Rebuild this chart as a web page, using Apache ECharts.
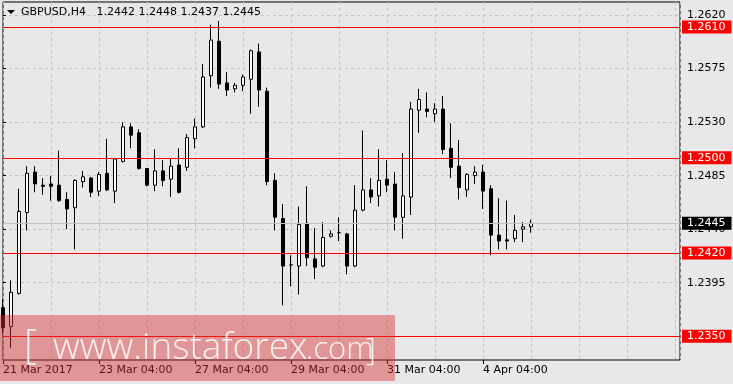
<!DOCTYPE html>
<html><head><meta charset="utf-8">
<script src="https://cdn.jsdelivr.net/npm/echarts@6/dist/echarts.min.js"></script>
<style>html,body{margin:0;padding:0;background:#e8e8e8}#c{width:733px;height:384px}</style>
</head><body><div id="c"></div><script>
const symbolName = 'GBPUSD,H4';
const opens  = [1.2374,1.2358,1.2386,1.2454,1.2488,1.2477,1.2478,1.2477,1.2465,1.2458,1.2480,1.2483,1.2472,1.2487,1.2472,1.2497,1.2526,1.2521,1.2491,1.2477,1.2489,1.2482,1.2494,1.2492,1.2516,1.2526,1.2569,1.2598,1.2563,1.2558,1.2561,1.2566,1.2589,1.2556,1.2481,1.2449,1.2410,1.2409,1.2445,1.2415,1.2409,1.2434,1.2437,1.2436,1.2409,1.2456,1.2473,1.2468,1.2482,1.2478,1.2450,1.2467,1.2540,1.2541,1.2537,1.2541,1.2508,1.2493,1.2473,1.2485,1.2488,1.2474,1.2435,1.2431,1.2432,1.2440,1.2442];
const highs  = [1.2381,1.2397,1.2474,1.2493,1.2493,1.2483,1.2485,1.2506,1.2471,1.2482,1.2489,1.2484,1.2488,1.2516,1.2500,1.2530,1.2529,1.2524,1.2491,1.2507,1.2498,1.2499,1.2508,1.2520,1.2533,1.2579,1.2612,1.2615,1.2572,1.2563,1.2570,1.2591,1.2596,1.2559,1.2487,1.2461,1.2418,1.2459,1.2476,1.2441,1.2446,1.2439,1.2450,1.2437,1.2477,1.2523,1.2483,1.2507,1.2498,1.2488,1.2504,1.2547,1.2558,1.2555,1.2546,1.2552,1.2529,1.2515,1.2487,1.2493,1.2494,1.2477,1.2466,1.2464,1.2452,1.2446,1.2448];
const lows   = [1.2352,1.2340,1.2385,1.2439,1.2471,1.2469,1.2464,1.2463,1.2440,1.2423,1.2475,1.2467,1.2468,1.2472,1.2462,1.2496,1.2508,1.2490,1.2476,1.2472,1.2476,1.2467,1.2470,1.2489,1.2508,1.2525,1.2559,1.2558,1.2552,1.2555,1.2556,1.2537,1.2543,1.2477,1.2439,1.2376,1.2392,1.2385,1.2409,1.2398,1.2408,1.2433,1.2430,1.2402,1.2408,1.2455,1.2462,1.2459,1.2471,1.2439,1.2432,1.2452,1.2521,1.2534,1.2530,1.2503,1.2483,1.2465,1.2467,1.2478,1.2457,1.2418,1.2423,1.2423,1.2429,1.2429,1.2437];
const closes = [1.2357,1.2387,1.2455,1.2487,1.2478,1.2476,1.2476,1.2464,1.2457,1.2481,1.2484,1.2471,1.2486,1.2473,1.2499,1.2526,1.2519,1.2491,1.2477,1.2489,1.2481,1.2493,1.2471,1.2517,1.2526,1.2568,1.2599,1.2562,1.2557,1.2561,1.2568,1.2590,1.2557,1.2480,1.2450,1.2409,1.2410,1.2444,1.2416,1.2408,1.2433,1.2436,1.2437,1.2409,1.2456,1.2473,1.2467,1.2481,1.2477,1.2450,1.2468,1.2541,1.2549,1.2539,1.2541,1.2507,1.2492,1.2475,1.2486,1.2488,1.2472,1.2435,1.2430,1.2430,1.2439,1.2442,1.2445];
const tickPositions = [0,12,24,36,48,60];
const tickLabels = ['21 Mar 2017','23 Mar 04:00','27 Mar 04:00','29 Mar 04:00','31 Mar 04:00','4 Apr 04:00'];
const priceTicks = [1.2350,1.2395,1.2440,1.2485,1.2530,1.2575,1.2620];
const levels = [1.2610,1.2500,1.2420,1.2350];
const lastPrice = 1.2445;

const FONT = '"DejaVu Sans", sans-serif';
const n = opens.length;
const data = opens.map((o,i)=>[i,o,closes[i],lows[i],highs[i]]);
const last = n-1;
const header = symbolName + '   ' + [opens[last],highs[last],lows[last],closes[last]].map(v=>v.toFixed(4)).join(' ');

const chart = echarts.init(document.getElementById('c'), null, {renderer:'canvas'});
const levelLines = levels.map(v=>({
  yAxis: v,
  lineStyle:{color:'#ff0000', width:1, type:'solid'},
  label:{show:true, position:'end', distance:2, formatter: p=>Number(p.value).toFixed(4),
    color:'#ffffff', backgroundColor:'#ff0000', padding:[1,6,0,5], fontSize:11, lineHeight:12, fontFamily:FONT}
}));
levelLines.unshift({
  yAxis: lastPrice,
  lineStyle:{color:'#c0c0c0', width:1, type:'solid'},
  label:{show:true, position:'end', distance:2, formatter: p=>Number(p.value).toFixed(4),
    color:'#ffffff', backgroundColor:'#000000', padding:[1,6,0,5], fontSize:11, lineHeight:12, fontFamily:FONT}
});

const WM = 'rgba(255,255,255,0.85)';
chart.setOption({
  animation:false,
  backgroundColor:'#e8e8e8',
  grid:{left:3, top:2, right:53, bottom:24, show:true, borderColor:'#000', borderWidth:1, backgroundColor:'transparent'},
  xAxis:[{
    type:'value', min:0, max:84.625, interval:6, position:'bottom',
    axisLine:{show:false}, axisTick:{show:false}, axisLabel:{show:false},
    splitLine:{show:true, lineStyle:{color:'#c4c4c4', type:[3,3], width:1}}
  },{
    type:'value', min:0, max:84.625, position:'bottom',
    axisLine:{show:false},
    axisTick:{show:true, customValues:tickPositions, length:4, lineStyle:{color:'#000'}},
    axisLabel:{show:true, customValues:tickPositions, align:'left', margin:5, color:'#000', fontSize:11, fontFamily:FONT,
      formatter:v=>{const k=tickPositions.indexOf(v); return k>=0?tickLabels[k]:'';}},
    splitLine:{show:false}
  }],
  yAxis:{
    type:'value', position:'right', min:1.2330, max:1.2631,
    axisLine:{show:false},
    axisTick:{show:true, customValues:priceTicks, length:3, lineStyle:{color:'#000'}},
    axisLabel:{show:true, customValues:priceTicks, margin:7, color:'#000', fontSize:11, fontFamily:FONT, formatter:v=>v.toFixed(4)},
    splitLine:{show:true, lineStyle:{color:'#c4c4c4', type:[3,3], width:1}}
  },
  series:[{
    type:'candlestick', xAxisIndex:0, yAxisIndex:0,
    encode:{x:0, y:[1,2,3,4]},
    data:data, barWidth:4,
    itemStyle:{color:'#ffffff', color0:'#000000', borderColor:'#000000', borderColor0:'#000000', borderColorDoji:'#000000', borderWidth:1},
    markLine:{symbol:'none', silent:true, animation:false, precision:4, data:levelLines}
  }],
  graphic:[
    {type:'polygon', shape:{points:[[7,10],[15,10],[11,14]]}, style:{fill:'#000'}, z:50},
    {type:'text', x:21, y:12, style:{text:header, font:'11px '+FONT, fill:'#000', verticalAlign:'middle'}, z:50},
    {type:'rect', shape:{x:0, y:315, width:395, height:66}, style:{fill:'rgba(214,46,46,0.44)'}, z:100},
    {type:'text', x:24, y:347, style:{text:'[', font:'300 40px "Open Sans", sans-serif', fill:WM, verticalAlign:'middle'}, z:101},
    {type:'text', x:53, y:348, style:{text:'www.instaforex', font:'300 37px "Open Sans", sans-serif', fill:WM, verticalAlign:'middle'}, z:101},
    {type:'text', x:306, y:350, style:{text:'.com', font:'300 31px "Open Sans", sans-serif', fill:WM, verticalAlign:'middle'}, z:101},
    {type:'text', x:366, y:351, style:{text:']', font:'300 31px "Open Sans", sans-serif', fill:WM, verticalAlign:'middle'}, z:101}
  ]
});
</script></body></html>
